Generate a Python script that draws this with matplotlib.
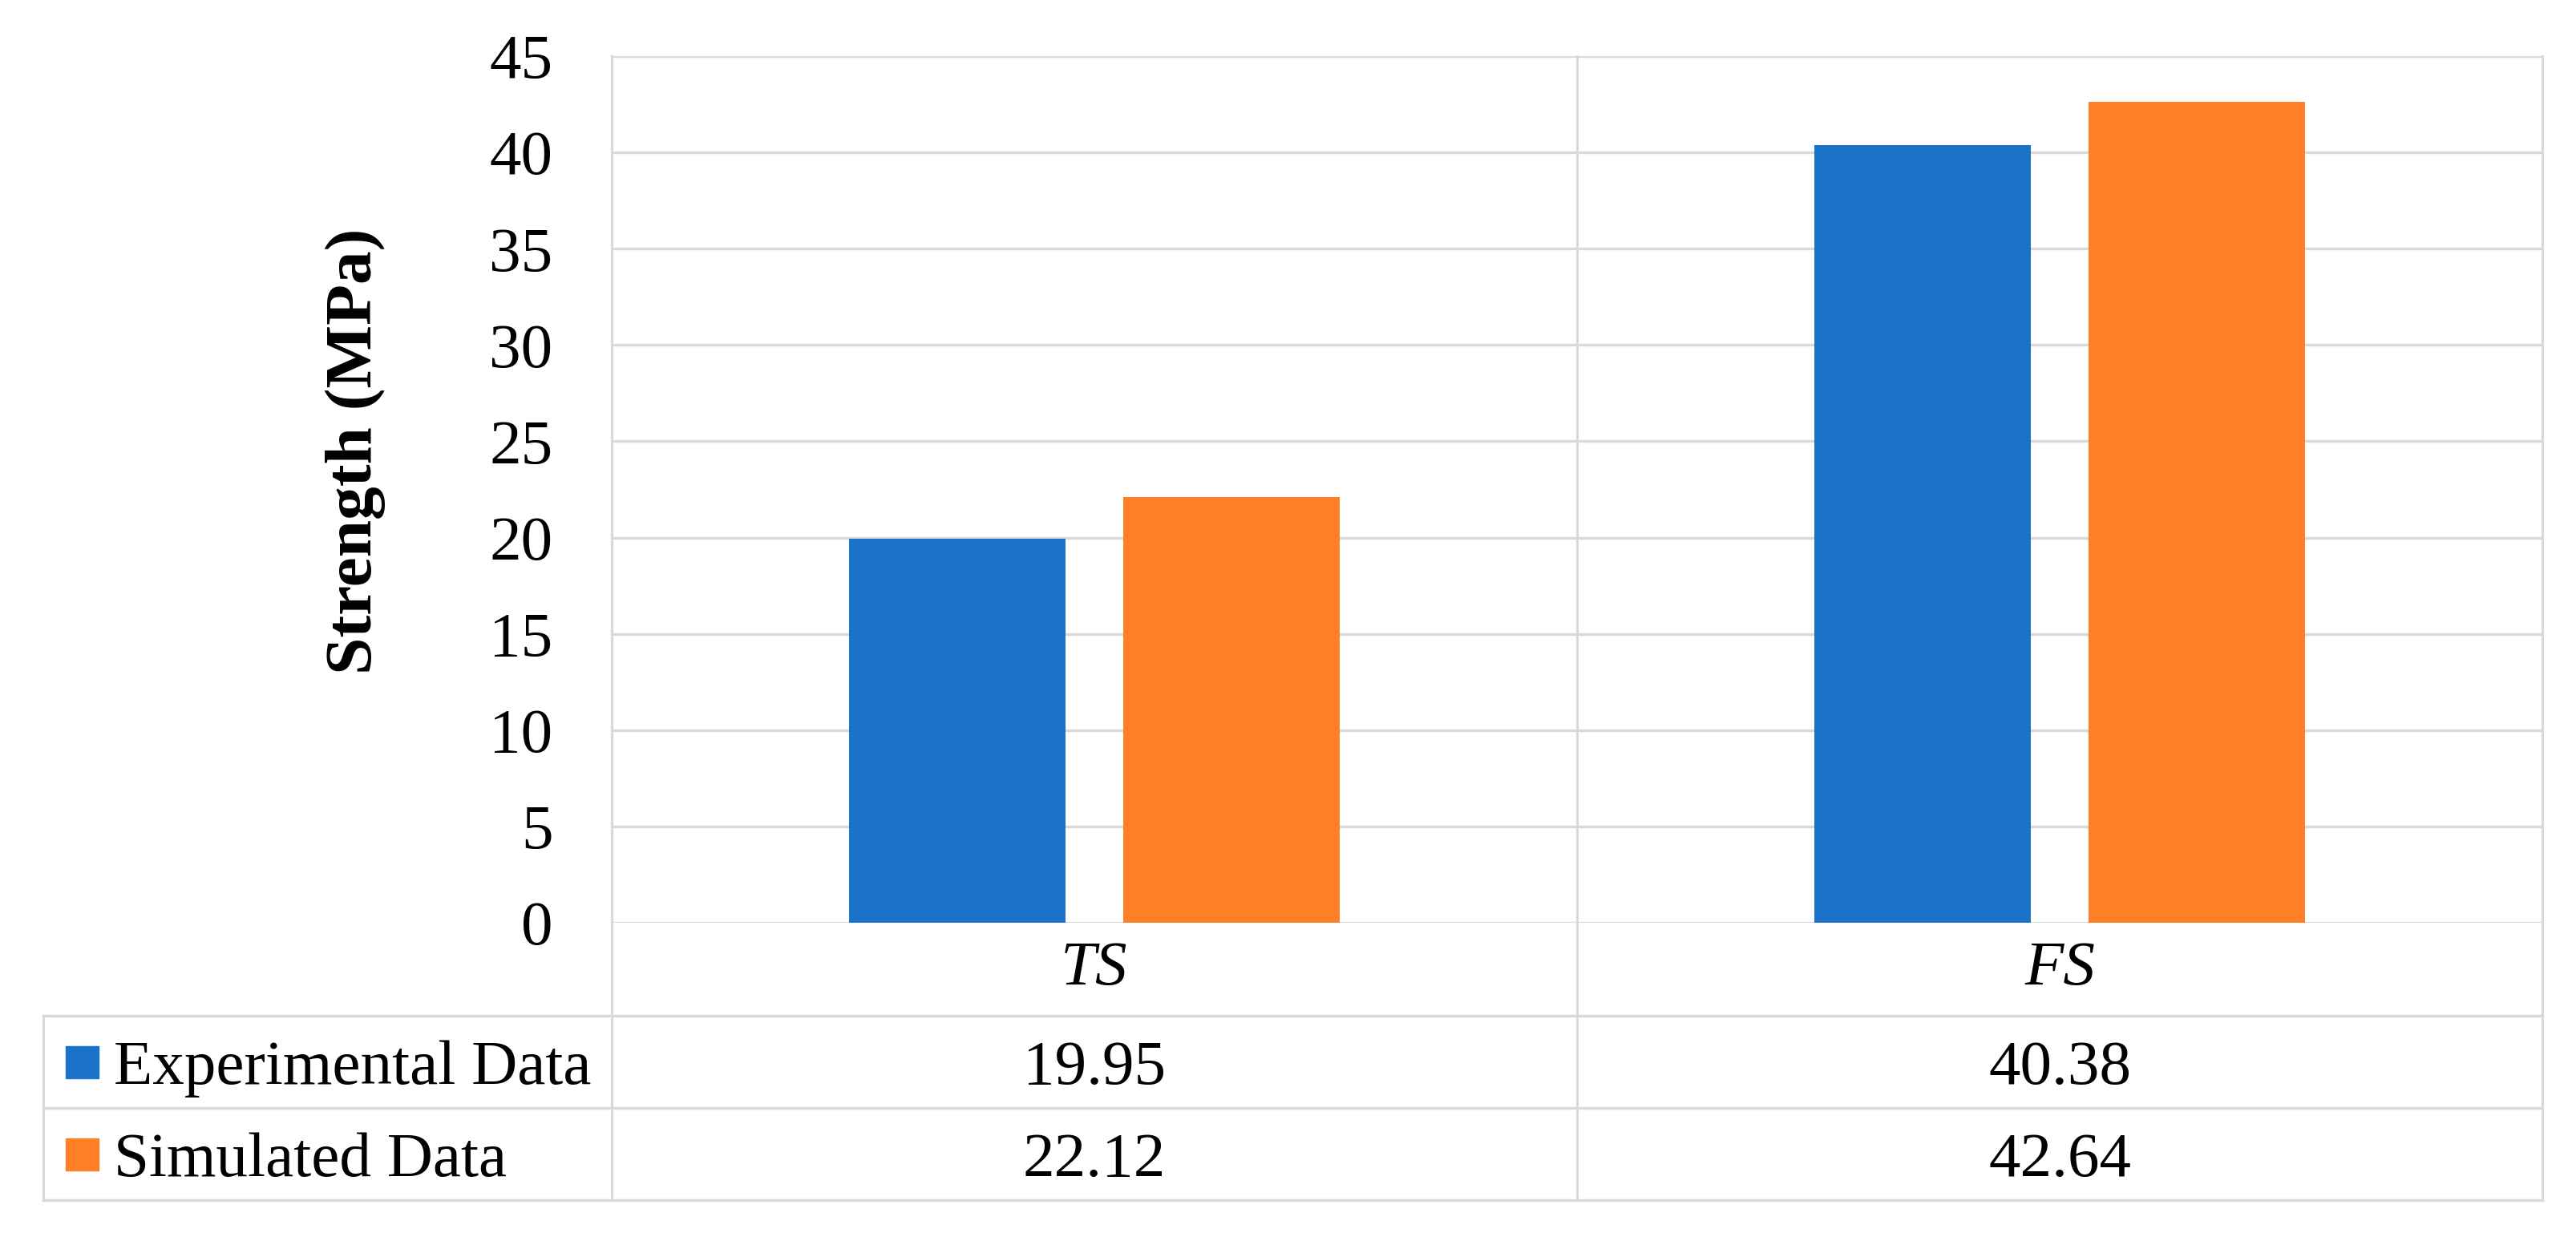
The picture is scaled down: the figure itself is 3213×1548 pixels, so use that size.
import matplotlib
matplotlib.use("Agg")
import matplotlib.pyplot as plt
from matplotlib.patches import Rectangle
from matplotlib.lines import Line2D
from matplotlib.transforms import blended_transform_factory

categories = ["TS", "FS"]
series_names = ["Experimental Data", "Simulated Data"]
experimental = [19.95, 40.38]
simulated = [22.12, 42.64]
yticks = [0, 5, 10, 15, 20, 25, 30, 35, 40, 45]
ylabel = "Strength (MPa)"

W, H = 3213, 1548
BLUE = "#1A73C9"
ORANGE = "#FF7F27"
GRID = "#D9D9D9"
FONT = "Liberation Serif"
FS_ = 57

def fx(px):
    return px / W

def fy(py):
    return 1 - py / H

fig = plt.figure(figsize=(W / 100, H / 100), dpi=100)
fig.patch.set_facecolor("white")

left, right, top, zero = 763, 3171, 70, 1151
ax = fig.add_axes([fx(left), fy(zero), fx(right - left), (zero - top) / H])

x = list(range(len(categories)))
bw = 0.224
off = 0.142
ax.bar([i - off for i in x], experimental, width=bw, color=BLUE, zorder=3)
ax.bar([i + off for i in x], simulated, width=bw, color=ORANGE, zorder=3)

ax.set_xlim(-0.5, len(categories) - 0.5)
ax.set_ylim(0, 45)
ax.set_yticks(yticks)
ax.set_yticklabels([str(t) for t in yticks], fontfamily=FONT, fontsize=FS_)
ax.tick_params(axis="y", length=0, pad=53)
ax.set_xticks([])
for s in ax.spines.values():
    s.set_visible(False)
for t in yticks:
    ax.axhline(t, color=GRID, lw=2.4, zorder=1)

# vertical separators from top of plot to bottom of table
trans = blended_transform_factory(ax.transData, fig.transFigure)
table_top, row_sep, table_bottom = 1267, 1382, 1497
table_left = 54
for xv in [-0.5 + i for i in range(len(categories) + 1)]:
    fig.add_artist(Line2D([xv, xv], [fy(top), fy(table_bottom)], transform=trans,
                          color=GRID, lw=2.2, zorder=1))

# table horizontal lines
for yy in [table_top, row_sep, table_bottom]:
    fig.add_artist(Line2D([fx(table_left), fx(right)], [fy(yy), fy(yy)],
                          color=GRID, lw=2.4))
fig.add_artist(Line2D([fx(table_left), fx(table_left)], [fy(table_top), fy(table_bottom)],
                      color=GRID, lw=2.2))

# category labels
for i, c in enumerate(categories):
    fig.text(i, fy((zero + table_top) / 2), c, transform=trans,
             ha="center", va="center", fontfamily=FONT, fontsize=FS_, style="italic")

# table rows
rows = [(series_names[0], BLUE, experimental), (series_names[1], ORANGE, simulated)]
row_centers = [(table_top + row_sep) / 2, (row_sep + table_bottom) / 2]
for (name, col, vals), yc in zip(rows, row_centers):
    fig.add_artist(Rectangle((fx(82), fy(yc + 20)), fx(41), 40 / H,
                             transform=fig.transFigure, color=col))
    fig.text(fx(142), fy(yc), name, ha="left", va="center_baseline",
             fontfamily=FONT, fontsize=FS_)
    for i, v in enumerate(vals):
        fig.text(i, fy(yc), f"{v:.2f}", transform=trans, ha="center",
                 va="center_baseline", fontfamily=FONT, fontsize=FS_)

fig.text(fx(443), fy(563), ylabel, rotation=90, ha="center", va="center",
         fontfamily=FONT, fontsize=60, fontweight="bold")

fig.savefig("out.png", dpi=100, facecolor="white")
